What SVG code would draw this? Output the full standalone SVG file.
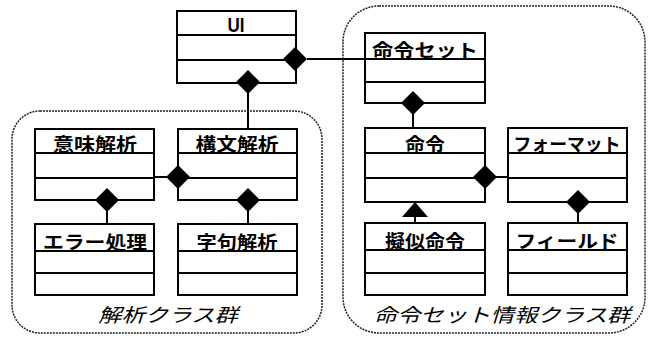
<svg xmlns="http://www.w3.org/2000/svg" width="648" height="340" viewBox="0 0 648 340">
<style>
.grp{fill:none;stroke:#222;stroke-width:1.5;stroke-dasharray:2 1}
.box{fill:#fff;stroke:#000;stroke-width:2}
.div{stroke:#000;stroke-width:2}
.t{font-family:"Noto Sans CJK JP","Noto Sans",sans-serif;font-weight:700;font-size:18px;text-anchor:middle;fill:#000}
.ui{font-family:"Liberation Sans",Arial,sans-serif;font-weight:700;font-size:21px;text-anchor:middle}
.gl{font-family:"Noto Sans CJK JP","Noto Sans",sans-serif;font-style:italic;font-weight:400;font-size:19px;text-anchor:middle;fill:#000}
.ln{fill:none;stroke:#000;stroke-width:2}
.dm{fill:#000;stroke:none}
</style>
<rect width="648" height="340" fill="#fff"/>
<g id="group-analysis">
<rect class="grp" x="12" y="111" width="310" height="222" rx="28"/>
<text class="gl" x="168" y="322" textLength="140" lengthAdjust="spacingAndGlyphs">解析クラス群</text>
</g>
<g id="group-instset">
<rect class="grp" x="343" y="6" width="302" height="327" rx="36"/>
<text class="gl" x="502" y="322" textLength="257" lengthAdjust="spacingAndGlyphs">命令セット情報クラス群</text>
</g>
<g id="connectors">
<line class="ln" x1="307" y1="59" x2="365" y2="59"/>
<line class="ln" x1="248" y1="93" x2="248" y2="129"/>
<line class="ln" x1="154" y1="177" x2="167" y2="177"/>
<line class="ln" x1="107" y1="211" x2="107" y2="224"/>
<line class="ln" x1="248" y1="211" x2="248" y2="224"/>
<line class="ln" x1="413" y1="114" x2="413" y2="128"/>
<line class="ln" x1="496" y1="177" x2="508" y2="177"/>
<line class="ln" x1="578" y1="213" x2="578" y2="223"/>
<line class="ln" x1="415" y1="216" x2="415" y2="223"/>
</g>
<g id="UI">
<rect class="box" x="177" y="11" width="119" height="72"/>
<line class="div" x1="177" y1="35" x2="296" y2="35"/>
<line class="div" x1="177" y1="60" x2="296" y2="60"/>
<text class="ui" x="236" y="32" textLength="17" lengthAdjust="spacingAndGlyphs">UI</text>
</g>
<g id="imi">
<rect class="box" x="35" y="129" width="119" height="71"/>
<line class="div" x1="35" y1="153" x2="154" y2="153"/>
<line class="div" x1="35" y1="178" x2="154" y2="178"/>
<text class="t" x="95" y="151" textLength="84" lengthAdjust="spacingAndGlyphs">意味解析</text>
</g>
<g id="kobun">
<rect class="box" x="178" y="129" width="119" height="71"/>
<line class="div" x1="178" y1="153" x2="297" y2="153"/>
<line class="div" x1="178" y1="178" x2="297" y2="178"/>
<text class="t" x="237" y="151" textLength="83" lengthAdjust="spacingAndGlyphs">構文解析</text>
</g>
<g id="error">
<rect class="box" x="35" y="224" width="119" height="71"/>
<line class="div" x1="35" y1="251" x2="154" y2="251"/>
<line class="div" x1="35" y1="273" x2="154" y2="273"/>
<text class="t" x="95" y="249" textLength="104" lengthAdjust="spacingAndGlyphs">エラー処理</text>
</g>
<g id="jiku">
<rect class="box" x="178" y="224" width="119" height="71"/>
<line class="div" x1="178" y1="251" x2="297" y2="251"/>
<line class="div" x1="178" y1="273" x2="297" y2="273"/>
<text class="t" x="237" y="249" textLength="81" lengthAdjust="spacingAndGlyphs">字句解析</text>
</g>
<g id="instset">
<rect class="box" x="365" y="33" width="120" height="70"/>
<line class="div" x1="365" y1="59" x2="485" y2="59"/>
<line class="div" x1="365" y1="82" x2="485" y2="82"/>
<text class="t" x="425" y="57" textLength="106" lengthAdjust="spacingAndGlyphs">命令セット</text>
</g>
<g id="inst">
<rect class="box" x="365" y="128" width="120" height="74"/>
<line class="div" x1="365" y1="153" x2="485" y2="153"/>
<line class="div" x1="365" y1="178" x2="485" y2="178"/>
<text class="t" x="425" y="151" textLength="40" lengthAdjust="spacingAndGlyphs">命令</text>
</g>
<g id="format">
<rect class="box" x="508" y="128" width="119" height="74"/>
<line class="div" x1="508" y1="153" x2="627" y2="153"/>
<line class="div" x1="508" y1="178" x2="627" y2="178"/>
<text class="t" x="567" y="151" textLength="107" lengthAdjust="spacingAndGlyphs">フォーマット</text>
</g>
<g id="pseudo">
<rect class="box" x="365" y="223" width="120" height="72"/>
<line class="div" x1="365" y1="250" x2="485" y2="250"/>
<line class="div" x1="365" y1="273" x2="485" y2="273"/>
<text class="t" x="425" y="248" textLength="80" lengthAdjust="spacingAndGlyphs">擬似命令</text>
</g>
<g id="field">
<rect class="box" x="508" y="223" width="119" height="72"/>
<line class="div" x1="508" y1="250" x2="627" y2="250"/>
<line class="div" x1="508" y1="273" x2="627" y2="273"/>
<text class="t" x="567" y="248" textLength="103" lengthAdjust="spacingAndGlyphs">フィールド</text>
</g>
<g id="heads">
<path class="dm" d="M295 47 L307 59 L295 71 L283 59 Z"/>
<path class="dm" d="M248 70 L260 82 L248 94 L236 82 Z"/>
<path class="dm" d="M178 165 L190 177 L178 189 L166 177 Z"/>
<path class="dm" d="M107 188 L119 200 L107 212 L95 200 Z"/>
<path class="dm" d="M248 188 L260 200 L248 212 L236 200 Z"/>
<path class="dm" d="M413 91 L425 103 L413 115 L401 103 Z"/>
<path class="dm" d="M485 165 L497 177 L485 189 L473 177 Z"/>
<path class="dm" d="M578 190 L590 202 L578 214 L566 202 Z"/>
<path class="dm" d="M415 202 L428 217 L402 217 Z"/>
</g>
</svg>
